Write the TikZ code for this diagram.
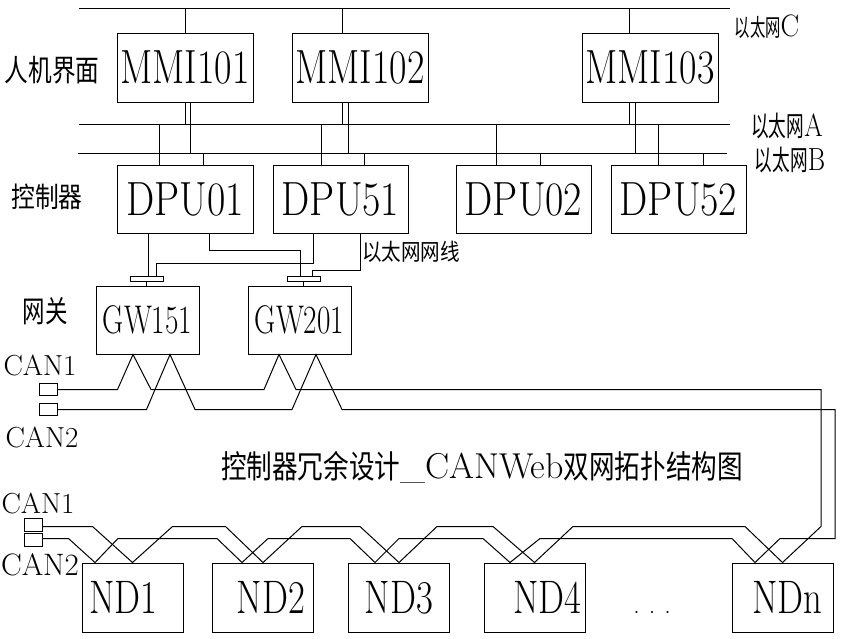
\documentclass[tikz,border=0pt]{standalone}
\usepackage{fontspec}
\newfontfamily\cjk{Noto Sans CJK SC}
\newcommand\zh[3]{\scalebox{#1}[1]{\fontsize{#2}{#2}\cjk #3}}
\newcommand\la[3]{\scalebox{#1}[1]{\fontsize{#2}{#2}\selectfont #3}}

\begin{document}
\begin{tikzpicture}[x=1pt,y=-1pt,
   line width=1pt,
   every node/.style={inner sep=0pt},
   unit/.style={draw,minimum width=136pt,minimum height=69pt},
   gate/.style={draw,minimum width=103pt,minimum height=68pt},
   nd/.style={draw,minimum width=101pt,minimum height=69pt},
   plug/.style={draw,minimum width=33pt,minimum height=5pt},
   port/.style={draw,minimum width=18pt,minimum height=12pt}]

\useasboundingbox (0,0) rectangle (843,638);

\coordinate (cw) at (79,8);
\coordinate (ce) at (730,8);
\coordinate (aw) at (79,124);
\coordinate (ae) at (730,124);
\coordinate (bw) at (78,153);
\coordinate (be) at (727,153);
\draw (cw) -- (ce);
\draw (aw) -- (ae);
\draw (bw) -- (be);

\node[unit] (mmi101) at (185,67.5) {\la{0.79}{48}{MMI101}};
\node[unit] (mmi102) at (360,67.5) {\la{0.79}{48}{MMI102}};
\node[unit] (mmi103) at (650,67.5) {\la{0.79}{48}{MMI103}};

\node[unit,minimum height=68pt] (dpu01) at (185,199) {\la{0.83}{48}{DPU01}};
\node[unit,minimum width=135pt,minimum height=68pt] (dpu51) at (340.5,199) {\la{0.83}{48}{DPU51}};
\node[unit,minimum width=135pt,minimum height=68pt] (dpu02) at (523.5,199) {\la{0.83}{48}{DPU02}};
\node[unit,minimum width=135pt,minimum height=68pt] (dpu52) at (678.5,199) {\la{0.83}{48}{DPU52}};

\node[gate] (gw151) at (147.5,320) {\la{0.73}{40}{GW151}};
\node[gate] (gw201) at (299.5,320) {\la{0.73}{40}{GW201}};
\node[plug] (p151) at (146.5,278.5) {};
\node[plug] (p201) at (303.5,278.5) {};

\foreach \n/\x/\d in {1/132.5/-18,2/263/16,3/399/0,4/534.5/26}
   \node[nd] (nd\n) at (\x,597.5) {\hspace*{\d pt}\la{0.78}{47}{ND\n}};
\node[nd] (ndn) at (782.5,597.5) {\hspace*{10pt}\la{0.78}{47}{NDn}};
\node (dots) at (652,612) {\la{1}{26}{.\hspace{9pt}.\hspace{9pt}.}};

\node[port] (can1a) at (48,389.5) {};
\node[port] (can2a) at (48,409.5) {};
\node[port,minimum height=13pt] (can1b) at (33,524.5) {};
\node[port,minimum height=13pt] (can2b) at (33,539.5) {};

\node (lblmmi) at (52,70) {\zh{0.79}{30}{人机界面}};
\node (lbldpu) at (47,197) {\zh{0.85}{28}{控制器}};
\node (lblgw) at (45,311) {\zh{0.75}{30}{网关}};
\node (lanc) at (767,27) {\zh{0.64}{24}{以太网}\la{0.9}{31}{C}};
\node (lana) at (787,126) {\zh{0.63}{28}{以太网}\la{0.83}{32}{A}};
\node (lanb) at (790,160) {\zh{0.63}{28}{以太网}\la{0.83}{32}{B}};
\node (cable) at (411,252) {\zh{0.85}{23}{以太网网线}};
\node (can1top) at (40,365) {\la{1}{29}{CAN1}};
\node (can2top) at (42,437) {\la{1}{29}{CAN2}};
\node (can1bot) at (38,503) {\la{1}{29}{CAN1}};
\node (can2bot) at (40,565) {\la{1}{31}{CAN2}};
\node (title) at (482,467) {\zh{0.8}{32}{控制器冗余设计}\la{1}{36}{\_CANWeb}\zh{0.8}{32}{双网拓扑结构图}};

\draw (mmi101.north) -- ++(0,-25);
\draw ([xshift=-18pt]mmi102.north) -- ++(0,-25);
\draw ([xshift=-21pt]mmi103.north) -- ++(0,-25);
\draw (mmi101.south) -- ++(0,22);
\draw ([xshift=5pt]mmi101.south) -- ++(0,51);
\draw ([xshift=-18pt]mmi102.south) -- ++(0,22);
\draw ([xshift=-12pt]mmi102.south) -- ++(0,51);
\draw ([xshift=-21pt]mmi103.south) -- ++(0,22);
\draw ([xshift=-15pt]mmi103.south) -- ++(0,51);

\draw ([xshift=-26pt]dpu01.north) -- ++(0,-41);
\draw ([xshift=18pt]dpu01.north) -- ++(0,-12);
\draw ([xshift=-19.5pt]dpu51.north) -- ++(0,-41);
\draw ([xshift=23.5pt]dpu51.north) -- ++(0,-12);
\draw ([xshift=-27.5pt]dpu02.north) -- ++(0,-41);
\draw ([xshift=16.5pt]dpu02.north) -- ++(0,-12);
\draw ([xshift=-20.5pt]dpu52.north) -- ++(0,-41);
\draw ([xshift=24.5pt]dpu52.north) -- ++(0,-12);

\draw ([xshift=-37pt]dpu01.south) -- ([xshift=1.5pt]p151.north);
\draw ([xshift=24pt]dpu01.south) -- ++(0,17) -| ([xshift=-3.5pt]p201.north);
\draw ([xshift=-27.5pt]dpu51.south) -- ++(0,30) -| ([xshift=9.5pt]p151.north);
\draw ([xshift=19.5pt]dpu51.south) -- ++(0,37) -| ([xshift=8.5pt]p201.north);
\draw (p151.south) -- (p151.south |- gw151.north);
\draw (p201.south) -- (p201.south |- gw201.north);

\draw (can1a.east) -- ++(60,0) -- ([xshift=-14.5pt]gw151.south) -- ++(18,35)
   -- ++(113,0) -- ([xshift=-20.5pt]gw201.south) -- ++(17,35)
   -- ++(525,0) -- ++(0,137) -- (ndn.north);
\draw (can2a.east) -- ++(89,0) -- ([xshift=22.5pt]gw151.south) -- ++(25,55)
   -- ++(97,0) -- ([xshift=16.5pt]gw201.south) -- ++(26,55)
   -- ++(493,0) -- ++(0,129) -- ++(-55,0) -- ([xshift=-27.5pt]ndn.north);

\draw ([yshift=-2pt]can1b.east) -- ++(50,0) -- (nd1.north) -- ++(40,-36)
   -- ++(53,0) -- (nd2.north) -- ++(39,-36)
   -- ++(58,0) -- (nd3.north) -- ++(38,-36)
   -- ++(56,0) -- (nd4.north) -- ++(38.5,-36)
   -- ++(172,0) -- (ndn.north);
\draw ([yshift=1pt]can2b.east) -- ++(26,0) -- ([xshift=-37.5pt]nd1.north) -- ++(23,-24)
   -- ++(99,0) -- ([xshift=-21pt]nd2.north) -- ++(26,-24)
   -- ++(82,0) -- ([xshift=-24pt]nd3.north) -- ++(24,-24)
   -- ++(84,0) -- ([xshift=-24.5pt]nd4.north) -- ++(30,-24)
   -- ++(192,0) -- ([xshift=-27.5pt]ndn.north);

\end{tikzpicture}
\end{document}
